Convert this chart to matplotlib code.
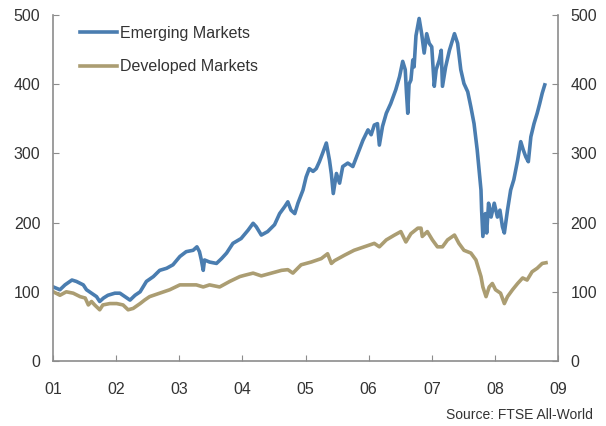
import matplotlib
matplotlib.use("Agg")
import matplotlib.pyplot as plt

# series: decimal year, index level
em_years = [2001.005, 2001.11, 2001.19, 2001.30, 2001.37, 2001.48, 2001.53, 2001.61, 2001.69, 2001.74,
            2001.80, 2001.87, 2001.98, 2002.06, 2002.14, 2002.22, 2002.30, 2002.38, 2002.48, 2002.59,
            2002.69, 2002.80, 2002.90, 2003.01, 2003.11, 2003.22, 2003.28, 2003.32, 2003.35, 2003.38,
            2003.40, 2003.48, 2003.59, 2003.67, 2003.75, 2003.85, 2003.98, 2004.09, 2004.17, 2004.22,
            2004.30, 2004.40, 2004.51, 2004.59, 2004.67, 2004.72, 2004.77, 2004.83, 2004.88, 2004.96,
            2005.01, 2005.06, 2005.12, 2005.17, 2005.22, 2005.27, 2005.33, 2005.38, 2005.41, 2005.44,
            2005.49, 2005.54, 2005.59, 2005.67, 2005.75, 2005.83, 2005.91, 2005.99, 2006.04, 2006.09,
            2006.14, 2006.17, 2006.22, 2006.28, 2006.35, 2006.43, 2006.49, 2006.54, 2006.58, 2006.60,
            2006.62, 2006.64, 2006.67, 2006.70, 2006.72, 2006.75, 2006.80, 2006.84, 2006.88, 2006.92,
            2006.96, 2007.00, 2007.04, 2007.07, 2007.12, 2007.15, 2007.17, 2007.22, 2007.28, 2007.33,
            2007.36, 2007.41, 2007.46, 2007.51, 2007.57, 2007.62, 2007.67, 2007.72, 2007.75, 2007.78,
            2007.79, 2007.81, 2007.85, 2007.87, 2007.90, 2007.94, 2007.99, 2008.04, 2008.08, 2008.12,
            2008.15, 2008.20, 2008.25, 2008.30, 2008.36, 2008.41, 2008.45, 2008.49, 2008.53, 2008.57,
            2008.62, 2008.67, 2008.71, 2008.75, 2008.79]
em_values = [107, 103, 110, 117, 115, 110, 103, 98, 93, 86,
             91, 95, 98, 98, 93, 88, 95, 100, 115, 122,
             131, 134, 139, 151, 158, 160, 165, 158, 146, 131,
             146, 143, 141, 148, 156, 170, 177, 189, 199, 194,
             182, 187, 197, 213, 223, 230, 218, 213, 228, 247,
             266, 278, 274, 278, 288, 300, 315, 290, 270, 242,
             271, 257, 281, 286, 281, 300, 319, 334, 327, 341,
             343, 312, 339, 358, 372, 392, 411, 433, 421, 387,
             358, 400, 406, 435, 425, 470, 495, 473, 445, 473,
             459, 454, 397, 421, 435, 449, 397, 425, 449, 464,
             473, 459, 421, 401, 389, 367, 343, 305, 276, 247,
             218, 180, 213, 185, 228, 208, 228, 208, 218, 194,
             185, 218, 247, 262, 290, 317, 305, 295, 288, 324,
             343, 358, 372, 387, 399]

dm_years = [2001.005, 2001.11, 2001.21, 2001.32, 2001.43, 2001.51, 2001.56, 2001.61, 2001.66, 2001.74,
            2001.79, 2001.90, 2002.01, 2002.11, 2002.19, 2002.27, 2002.38, 2002.45, 2002.53, 2002.69,
            2002.85, 2003.01, 2003.17, 2003.27, 2003.38, 2003.48, 2003.64, 2003.80, 2003.96, 2004.04,
            2004.17, 2004.30, 2004.46, 2004.62, 2004.72, 2004.80, 2004.93, 2005.09, 2005.25, 2005.35,
            2005.41, 2005.46, 2005.62, 2005.77, 2005.93, 2006.09, 2006.17, 2006.28, 2006.41, 2006.51,
            2006.59, 2006.67, 2006.78, 2006.83, 2006.85, 2006.93, 2007.01, 2007.09, 2007.17, 2007.25,
            2007.36, 2007.43, 2007.51, 2007.62, 2007.70, 2007.75, 2007.78, 2007.81, 2007.86, 2007.91,
            2007.96, 2008.01, 2008.09, 2008.15, 2008.20, 2008.28, 2008.36, 2008.44, 2008.51, 2008.59,
            2008.67, 2008.75, 2008.81]
dm_values = [100, 95, 100, 98, 93, 91, 81, 86, 81, 74,
             81, 83, 83, 81, 74, 76, 83, 88, 93, 98,
             103, 110, 110, 110, 107, 110, 107, 115, 122, 124,
             127, 123, 127, 131, 132, 127, 139, 143, 148, 155,
             141, 145, 153, 160, 165, 170, 165, 175, 182, 187,
             172, 184, 192, 192, 180, 187, 175, 165, 165, 175,
             182, 170, 160, 156, 146, 131, 122, 107, 93, 107,
             112, 103, 98, 83, 93, 103, 112, 120, 117, 129,
             134, 141, 142]

year_ticks = [2001, 2002, 2003, 2004, 2005, 2006, 2007, 2008, 2009]
year_labels = ['01', '02', '03', '04', '05', '06', '07', '08', '09']
y_ticks = [0, 100, 200, 300, 400, 500]

plt.rcParams['font.family'] = ['Liberation Sans', 'DejaVu Sans']
text_col = '#333333'
grey = '#8c8c8c'

fig = plt.figure(figsize=(6.06, 4.26), dpi=100)
ax = fig.add_axes([53 / 606, 65 / 426, 505 / 606, 346 / 426])

ax.plot(em_years, em_values, color='#4a7db0', lw=2.6, label='Emerging Markets', solid_joinstyle='round')
ax.plot(dm_years, dm_values, color='#ab9d72', lw=2.6, label='Developed Markets', solid_joinstyle='round')

ax.set_xlim(2001, 2009)
ax.set_ylim(0, 500)
ax.set_xticks(year_ticks)
ax.set_xticklabels(year_labels)
ax.set_yticks(y_ticks)

for s in ['left', 'right', 'bottom']:
    ax.spines[s].set_color(grey)
    ax.spines[s].set_linewidth(1.2)
ax.spines['top'].set_visible(False)

ax.tick_params(axis='y', direction='in', length=4, color=grey, left=True, right=True,
               labelleft=True, labelright=True, labelsize=11.5, labelcolor=text_col, pad=9)
ax.tick_params(axis='x', direction='in', length=4, color=grey, labelsize=11.5,
               labelcolor=text_col, pad=15)

leg = ax.legend(loc='upper left', bbox_to_anchor=(0.053, 0.968), frameon=False,
                borderpad=0, borderaxespad=0, handlelength=2.35, handletextpad=0.2,
                labelspacing=1.15, fontsize=11.5)
for t in leg.get_texts():
    t.set_color(text_col)

fig.text(593 / 606, 1 - 415 / 426, 'Source: FTSE All-World', ha='right', va='center',
         fontsize=10, color=text_col)

fig.savefig('out.png', dpi=100)
